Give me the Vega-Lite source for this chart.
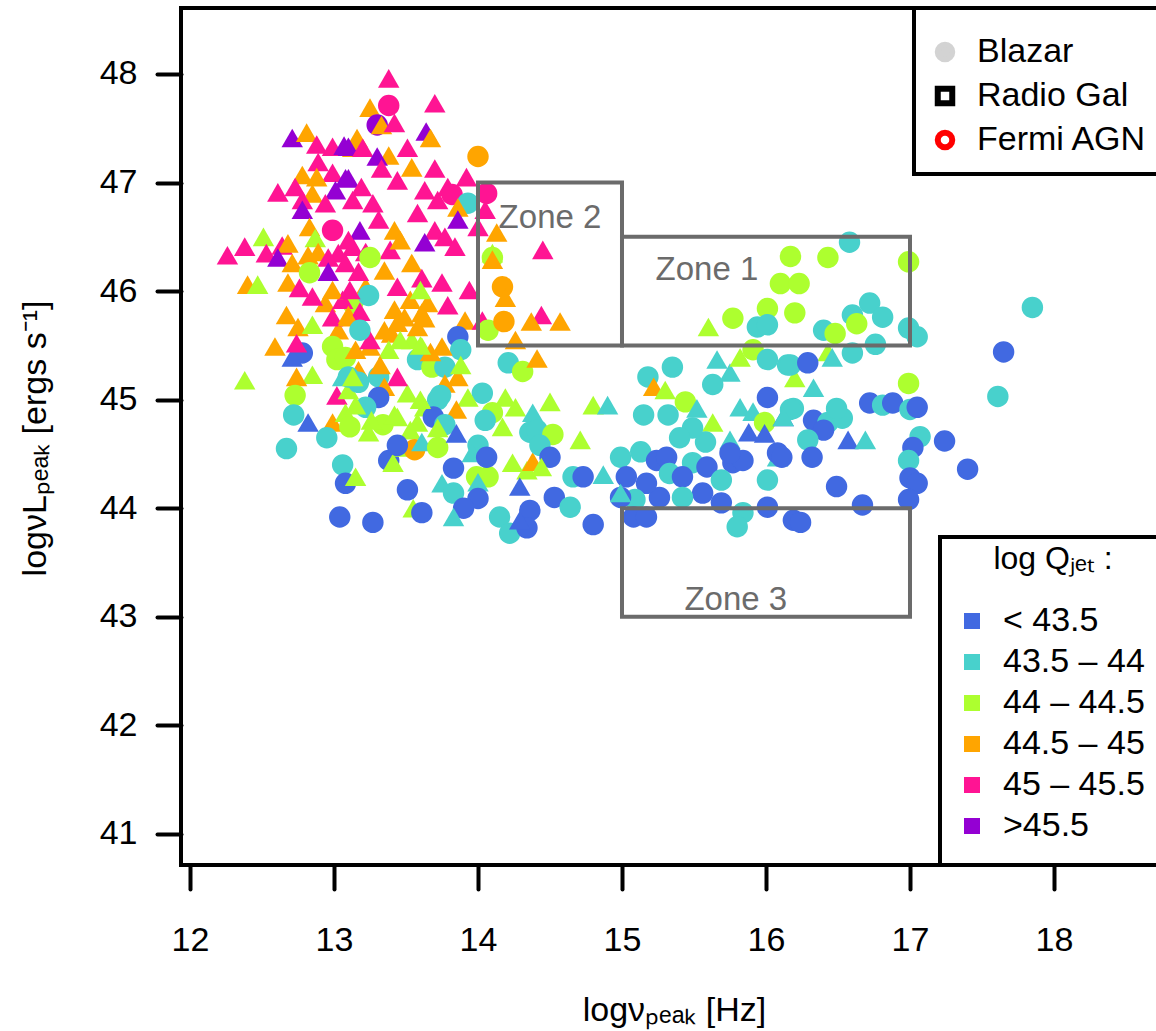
{
  "$schema": "https://vega.github.io/schema/vega-lite/v6.json",
  "width": 985,
  "height": 857,
  "autosize": "none",
  "padding": {"left": 181, "top": 8, "right": -10, "bottom": 166},
  "background": "white",
  "config": {
    "view": {"stroke": "black", "strokeWidth": 4},
    "font": "Liberation Sans",
    "axis": {"domain": false, "grid": false, "tickColor": "black", "tickWidth": 4, "tickSize": 24, "tickCap": "round", "labelFont": "Liberation Sans", "labelFontSize": 34, "labelColor": "black", "titleFont": "Liberation Sans", "titleFontSize": 34, "titleFontWeight": "normal", "titleColor": "black"},
    "legend": {"labelFont": "Liberation Sans", "titleFont": "Liberation Sans", "labelColor": "black", "titleColor": "black", "strokeWidth": 4, "labelLimit": 400}
  },
  "resolve": {"scale": {"shape": "independent", "fill": "independent", "stroke": "independent"}, "legend": {"shape": "independent", "fill": "independent", "stroke": "independent"}},
  "layer": [
    {
      "data": {"values": [
        {"x":12.71,"y":47.41,"q":"V","s":"t"},{"x":12.81,"y":47.46,"q":"O","s":"t"},{"x":12.88,"y":47.35,"q":"P","s":"t"},{"x":12.99,"y":47.33,"q":"P","s":"t"},{"x":13.07,"y":47.34,"q":"V","s":"t"},{"x":13.13,"y":47.32,"q":"O","s":"t"},{"x":12.89,"y":47.19,"q":"P","s":"t"},{"x":12.78,"y":47.07,"q":"O","s":"t"},{"x":12.99,"y":47.09,"q":"P","s":"t"},{"x":13.08,"y":47.04,"q":"V","s":"t"},{"x":12.88,"y":47.05,"q":"O","s":"t"},{"x":12.61,"y":46.91,"q":"P","s":"t"},{"x":12.73,"y":46.96,"q":"P","s":"t"},{"x":12.85,"y":46.90,"q":"O","s":"t"},{"x":13.01,"y":46.93,"q":"V","s":"t"},{"x":12.78,"y":46.84,"q":"P","s":"t"},{"x":12.78,"y":46.75,"q":"V","s":"t"},{"x":12.94,"y":46.81,"q":"P","s":"t"},{"x":12.99,"y":46.56,"q":"P","s":"c"},{"x":12.83,"y":46.59,"q":"O","s":"t"},{"x":12.51,"y":46.50,"q":"G","s":"t"},{"x":12.87,"y":46.49,"q":"G","s":"t"},{"x":12.38,"y":46.41,"q":"P","s":"t"},{"x":12.26,"y":46.33,"q":"P","s":"t"},{"x":12.53,"y":46.35,"q":"P","s":"t"},{"x":12.64,"y":46.42,"q":"P","s":"t"},{"x":12.68,"y":46.44,"q":"O","s":"t"},{"x":12.61,"y":46.31,"q":"V","s":"t"},{"x":12.82,"y":46.33,"q":"O","s":"t"},{"x":12.89,"y":46.36,"q":"O","s":"t"},{"x":13.03,"y":46.35,"q":"P","s":"t"},{"x":13.13,"y":46.41,"q":"P","s":"t"},
        {"x":13.38,"y":47.96,"q":"P","s":"t"},{"x":13.38,"y":47.71,"q":"P","s":"c"},{"x":13.25,"y":47.69,"q":"O","s":"t"},{"x":13.30,"y":47.53,"q":"V","s":"c"},{"x":13.33,"y":47.53,"q":"O","s":"t"},{"x":13.42,"y":47.55,"q":"P","s":"t"},{"x":13.70,"y":47.73,"q":"P","s":"t"},{"x":13.64,"y":47.47,"q":"V","s":"t"},{"x":13.67,"y":47.41,"q":"O","s":"t"},{"x":13.16,"y":47.41,"q":"O","s":"t"},{"x":13.10,"y":47.33,"q":"V","s":"t"},{"x":13.20,"y":47.32,"q":"P","s":"t"},{"x":13.38,"y":47.25,"q":"O","s":"t"},{"x":13.30,"y":47.24,"q":"V","s":"t"},{"x":13.51,"y":47.32,"q":"P","s":"t"},{"x":14.00,"y":47.24,"q":"O","s":"c"},{"x":13.70,"y":47.13,"q":"P","s":"t"},{"x":13.54,"y":47.14,"q":"O","s":"t"},{"x":13.33,"y":47.13,"q":"P","s":"t"},{"x":13.10,"y":47.04,"q":"V","s":"t"},{"x":13.19,"y":46.96,"q":"P","s":"t"},{"x":13.44,"y":47.02,"q":"P","s":"t"},{"x":13.63,"y":46.93,"q":"P","s":"t"},{"x":13.92,"y":47.05,"q":"P","s":"t"},{"x":13.79,"y":46.96,"q":"P","s":"t"},{"x":13.82,"y":46.89,"q":"P","s":"c"},{"x":14.06,"y":46.90,"q":"P","s":"c"},{"x":13.93,"y":46.81,"q":"T","s":"c"},{"x":13.86,"y":46.77,"q":"O","s":"t"},{"x":13.72,"y":46.84,"q":"P","s":"t"},{"x":13.58,"y":46.72,"q":"P","s":"t"},{"x":13.13,"y":46.84,"q":"P","s":"t"},{"x":13.27,"y":46.81,"q":"P","s":"t"},{"x":13.86,"y":46.66,"q":"V","s":"t"},{"x":13.18,"y":46.56,"q":"V","s":"t"},{"x":13.42,"y":46.56,"q":"O","s":"t"},{"x":13.31,"y":46.66,"q":"P","s":"t"},{"x":13.70,"y":46.56,"q":"P","s":"t"},{"x":13.63,"y":46.45,"q":"V","s":"t"},{"x":13.77,"y":46.50,"q":"P","s":"t"},{"x":13.84,"y":46.41,"q":"P","s":"t"},{"x":14.13,"y":46.54,"q":"O","s":"t"},{"x":14.10,"y":46.35,"q":"G","s":"t"},{"x":13.39,"y":46.38,"q":"P","s":"t"},{"x":13.46,"y":46.47,"q":"O","s":"t"},{"x":13.10,"y":46.47,"q":"P","s":"t"},{"x":13.22,"y":46.36,"q":"P","s":"t"},{"x":14.00,"y":46.59,"q":"P","s":"t"},{"x":14.05,"y":46.75,"q":"P","s":"t"},
        {"x":13.25,"y":46.31,"q":"G","s":"c"},{"x":13.35,"y":46.19,"q":"O","s":"t"},{"x":13.54,"y":46.26,"q":"O","s":"t"},{"x":13.22,"y":46.04,"q":"O","s":"t"},{"x":13.13,"y":45.89,"q":"G","s":"c"},{"x":12.94,"y":45.89,"q":"O","s":"t"},{"x":13.06,"y":45.92,"q":"P","s":"t"},{"x":13.65,"y":45.89,"q":"O","s":"t"},{"x":13.49,"y":45.76,"q":"O","s":"t"},{"x":13.61,"y":45.80,"q":"O","s":"t"},{"x":13.40,"y":45.61,"q":"O","s":"t"},{"x":13.03,"y":45.64,"q":"O","s":"t"},
        {"x":12.71,"y":46.26,"q":"O","s":"t"},{"x":12.96,"y":46.31,"q":"P","s":"t"},{"x":12.96,"y":46.18,"q":"V","s":"t"},{"x":13.08,"y":46.26,"q":"P","s":"t"},{"x":12.40,"y":46.06,"q":"O","s":"t"},{"x":12.47,"y":46.06,"q":"G","s":"t"},{"x":12.68,"y":46.08,"q":"O","s":"t"},{"x":12.76,"y":46.03,"q":"P","s":"t"},{"x":12.85,"y":45.95,"q":"P","s":"t"},{"x":12.83,"y":46.17,"q":"G","s":"c"},{"x":12.99,"y":46.01,"q":"O","s":"t"},{"x":12.99,"y":45.76,"q":"P","s":"t"},{"x":12.67,"y":45.78,"q":"O","s":"t"},{"x":12.75,"y":45.67,"q":"O","s":"t"},{"x":12.85,"y":45.69,"q":"G","s":"t"},{"x":13.10,"y":45.78,"q":"O","s":"t"},{"x":12.59,"y":45.49,"q":"O","s":"t"},{"x":12.78,"y":45.43,"q":"B","s":"c"},{"x":12.71,"y":45.39,"q":"B","s":"t"},{"x":12.74,"y":45.52,"q":"P","s":"t"},{"x":12.99,"y":45.49,"q":"G","s":"c"},{"x":13.02,"y":45.37,"q":"G","s":"c"},{"x":12.85,"y":45.23,"q":"G","s":"t"},{"x":12.74,"y":45.21,"q":"O","s":"t"},{"x":13.06,"y":45.21,"q":"T","s":"t"},{"x":12.38,"y":45.18,"q":"G","s":"t"},{"x":12.73,"y":45.04,"q":"G","s":"c"},{"x":13.02,"y":45.04,"q":"P","s":"t"},{"x":12.72,"y":44.86,"q":"T","s":"c"},{"x":12.82,"y":44.79,"q":"B","s":"t"},{"x":12.99,"y":44.79,"q":"O","s":"t"},{"x":13.08,"y":44.88,"q":"G","s":"t"},
        {"x":13.08,"y":45.39,"q":"G","s":"c"},{"x":13.10,"y":45.09,"q":"G","s":"t"},{"x":13.15,"y":45.46,"q":"O","s":"t"},{"x":13.17,"y":45.27,"q":"O","s":"t"},{"x":13.10,"y":45.21,"q":"T","s":"c"},{"x":13.38,"y":45.46,"q":"G","s":"t"},{"x":13.31,"y":45.21,"q":"T","s":"c"},{"x":13.54,"y":45.55,"q":"G","s":"t"},{"x":13.61,"y":45.49,"q":"G","s":"t"},{"x":13.58,"y":45.37,"q":"T","s":"c"},{"x":13.68,"y":45.30,"q":"G","s":"c"},{"x":13.77,"y":45.30,"q":"T","s":"c"},{"x":13.51,"y":45.06,"q":"G","s":"t"},{"x":13.72,"y":45.00,"q":"T","s":"c"},{"x":13.63,"y":44.93,"q":"G","s":"t"},{"x":13.44,"y":44.84,"q":"G","s":"t"},{"x":13.58,"y":44.79,"q":"G","s":"t"},{"x":13.11,"y":44.75,"q":"G","s":"c"},{"x":13.34,"y":44.77,"q":"G","s":"c"},
        {"x":13.17,"y":46.18,"q":"P","s":"t"},{"x":13.44,"y":46.04,"q":"P","s":"t"},{"x":13.61,"y":46.12,"q":"P","s":"t"},{"x":13.75,"y":46.08,"q":"P","s":"t"},{"x":13.94,"y":46.01,"q":"P","s":"t"},{"x":14.10,"y":46.31,"q":"G","s":"c"},{"x":14.10,"y":46.29,"q":"O","s":"t"},{"x":14.17,"y":46.04,"q":"O","s":"c"},{"x":14.19,"y":45.94,"q":"O","s":"t"},{"x":13.79,"y":45.87,"q":"P","s":"t"},{"x":13.91,"y":45.73,"q":"O","s":"t"},{"x":14.03,"y":45.73,"q":"P","s":"t"},{"x":13.18,"y":45.81,"q":"P","s":"t"},{"x":13.10,"y":45.76,"q":"O","s":"t"},{"x":13.42,"y":45.83,"q":"O","s":"t"},{"x":13.44,"y":45.71,"q":"O","s":"t"},{"x":13.35,"y":45.64,"q":"O","s":"t"},{"x":13.58,"y":45.67,"q":"O","s":"t"},{"x":13.24,"y":45.96,"q":"T","s":"c"},{"x":13.86,"y":45.58,"q":"B","s":"c"},{"x":13.88,"y":45.46,"q":"T","s":"c"},{"x":13.75,"y":45.49,"q":"O","s":"t"},{"x":13.67,"y":45.44,"q":"O","s":"t"},{"x":13.25,"y":45.49,"q":"O","s":"t"},{"x":13.25,"y":45.55,"q":"P","s":"t"},{"x":13.44,"y":45.21,"q":"P","s":"t"},{"x":13.35,"y":45.12,"q":"O","s":"t"},{"x":13.77,"y":45.15,"q":"O","s":"t"},{"x":13.86,"y":45.21,"q":"O","s":"t"},{"x":14.21,"y":45.34,"q":"T","s":"c"},{"x":14.07,"y":45.64,"q":"G","s":"c"},{"x":14.31,"y":45.26,"q":"G","s":"c"},{"x":14.03,"y":45.06,"q":"T","s":"c"},{"x":13.93,"y":45.02,"q":"G","s":"t"},{"x":14.19,"y":45.02,"q":"G","s":"t"},{"x":14.26,"y":44.93,"q":"G","s":"t"},{"x":13.85,"y":44.91,"q":"O","s":"t"},{"x":13.31,"y":45.02,"q":"B","s":"c"},{"x":13.69,"y":44.84,"q":"B","s":"c"},{"x":13.17,"y":45.16,"q":"T","s":"c"},{"x":13.13,"y":45.21,"q":"G","s":"t"},{"x":13.22,"y":44.93,"q":"T","s":"c"},{"x":13.26,"y":44.81,"q":"G","s":"t"},{"x":14.10,"y":44.88,"q":"G","s":"c"},{"x":14.05,"y":44.81,"q":"T","s":"c"},{"x":14.26,"y":45.55,"q":"O","s":"t"},{"x":13.46,"y":45.55,"q":"G","s":"t"},{"x":13.60,"y":45.50,"q":"G","s":"t"},{"x":13.53,"y":45.92,"q":"O","s":"t"},{"x":13.63,"y":45.75,"q":"O","s":"t"},{"x":13.15,"y":44.95,"q":"G","s":"t"},{"x":13.42,"y":44.86,"q":"G","s":"t"},{"x":13.60,"y":45.00,"q":"G","s":"t"},{"x":13.74,"y":45.04,"q":"T","s":"c"},{"x":13.53,"y":44.72,"q":"G","s":"t"},{"x":13.77,"y":44.77,"q":"T","s":"c"},{"x":13.88,"y":45.32,"q":"G","s":"t"},{"x":13.32,"y":45.32,"q":"O","s":"t"},{"x":13.18,"y":45.64,"q":"T","s":"c"},{"x":13.60,"y":46.01,"q":"G","s":"t"},{"x":13.11,"y":46.01,"q":"P","s":"t"},
        {"x":14.45,"y":46.38,"q":"P","s":"t"},{"x":14.44,"y":45.78,"q":"P","s":"t"},{"x":14.57,"y":45.72,"q":"O","s":"t"},{"x":14.37,"y":45.72,"q":"O","s":"t"},{"x":14.18,"y":45.72,"q":"O","s":"c"},
        {"x":12.67,"y":44.55,"q":"T","s":"c"},{"x":12.95,"y":44.65,"q":"T","s":"c"},{"x":13.06,"y":44.40,"q":"T","s":"c"},{"x":13.08,"y":44.23,"q":"B","s":"c"},{"x":13.15,"y":44.29,"q":"G","s":"t"},{"x":13.24,"y":44.70,"q":"G","s":"t"},{"x":13.38,"y":44.44,"q":"B","s":"c"},{"x":13.41,"y":44.42,"q":"G","s":"t"},{"x":13.49,"y":44.56,"q":"G","s":"t"},{"x":13.56,"y":44.54,"q":"O","s":"c"},{"x":13.61,"y":44.61,"q":"T","s":"t"},{"x":13.44,"y":44.58,"q":"B","s":"c"},{"x":13.72,"y":44.56,"q":"G","s":"c"},{"x":13.85,"y":44.69,"q":"B","s":"t"},{"x":13.72,"y":44.74,"q":"G","s":"t"},{"x":13.51,"y":44.17,"q":"B","s":"c"},{"x":13.55,"y":44.00,"q":"G","s":"t"},{"x":13.61,"y":43.96,"q":"B","s":"c"},{"x":13.04,"y":43.92,"q":"B","s":"c"},{"x":13.27,"y":43.87,"q":"B","s":"c"},{"x":13.75,"y":44.23,"q":"T","s":"t"},{"x":13.83,"y":44.14,"q":"T","s":"c"},{"x":13.83,"y":44.37,"q":"B","s":"c"},{"x":13.99,"y":44.29,"q":"G","s":"c"},{"x":14.07,"y":44.29,"q":"G","s":"c"},{"x":14.00,"y":44.24,"q":"T","s":"t"},{"x":14.00,"y":44.09,"q":"B","s":"c"},{"x":13.90,"y":44.00,"q":"B","s":"c"},{"x":13.83,"y":43.92,"q":"T","s":"t"},{"x":14.00,"y":44.58,"q":"T","s":"c"},{"x":13.96,"y":44.51,"q":"T","s":"t"},{"x":14.06,"y":44.47,"q":"B","s":"c"},{"x":14.15,"y":43.92,"q":"T","s":"c"},{"x":14.22,"y":43.77,"q":"T","s":"c"},{"x":14.36,"y":43.98,"q":"B","s":"c"},{"x":14.34,"y":43.82,"q":"B","s":"c"},{"x":14.29,"y":43.89,"q":"B","s":"t"},{"x":14.24,"y":44.42,"q":"G","s":"t"},{"x":14.34,"y":44.35,"q":"G","s":"t"},{"x":14.38,"y":44.43,"q":"O","s":"t"},{"x":14.29,"y":44.20,"q":"B","s":"t"},{"x":14.36,"y":44.70,"q":"T","s":"c"},{"x":14.17,"y":44.75,"q":"G","s":"t"},
        {"x":14.41,"y":45.38,"q":"O","s":"t"},{"x":15.18,"y":45.21,"q":"T","s":"c"},{"x":15.35,"y":45.30,"q":"T","s":"c"},{"x":15.22,"y":45.12,"q":"O","s":"t"},{"x":15.30,"y":45.09,"q":"G","s":"t"},{"x":15.44,"y":44.98,"q":"G","s":"c"},{"x":15.52,"y":44.92,"q":"T","s":"t"},{"x":15.15,"y":44.86,"q":"T","s":"c"},{"x":15.32,"y":44.86,"q":"T","s":"c"},{"x":15.66,"y":45.37,"q":"T","s":"t"},{"x":15.75,"y":45.25,"q":"T","s":"t"},{"x":15.63,"y":45.14,"q":"T","s":"c"},{"x":15.82,"y":45.39,"q":"G","s":"t"},{"x":15.91,"y":45.46,"q":"G","s":"c"},{"x":15.94,"y":45.67,"q":"T","s":"c"},{"x":16.01,"y":45.37,"q":"T","s":"c"},{"x":16.15,"y":45.32,"q":"T","s":"c"},{"x":16.20,"y":45.20,"q":"G","s":"t"},{"x":15.82,"y":44.93,"q":"T","s":"t"},{"x":16.01,"y":45.02,"q":"B","s":"c"},{"x":15.91,"y":44.89,"q":"T","s":"t"},{"x":15.99,"y":44.79,"q":"G","s":"c"},{"x":16.12,"y":44.84,"q":"B","s":"t"},{"x":15.88,"y":44.70,"q":"B","s":"t"},{"x":15.99,"y":44.69,"q":"B","s":"t"},{"x":16.19,"y":44.92,"q":"T","s":"c"},{"x":15.63,"y":44.79,"q":"G","s":"t"},{"x":15.58,"y":44.61,"q":"T","s":"c"},{"x":15.49,"y":44.74,"q":"T","s":"c"},{"x":15.40,"y":44.65,"q":"T","s":"c"},{"x":15.75,"y":44.63,"q":"T","s":"t"},{"x":16.08,"y":44.47,"q":"T","s":"t"},{"x":16.08,"y":44.51,"q":"B","s":"c"},{"x":14.50,"y":44.98,"q":"G","s":"t"},{"x":14.80,"y":44.95,"q":"G","s":"t"},{"x":14.90,"y":44.95,"q":"T","s":"t"},{"x":14.38,"y":44.88,"q":"T","s":"t"},{"x":14.41,"y":44.72,"q":"T","s":"c"},{"x":14.52,"y":44.68,"q":"G","s":"c"},{"x":14.71,"y":44.63,"q":"G","s":"t"},{"x":14.43,"y":44.58,"q":"T","s":"c"},{"x":14.50,"y":44.47,"q":"B","s":"c"},{"x":14.44,"y":44.38,"q":"G","s":"t"},{"x":14.66,"y":44.29,"q":"T","s":"c"},{"x":14.73,"y":44.29,"q":"B","s":"c"},{"x":14.87,"y":44.31,"q":"T","s":"t"},{"x":14.53,"y":44.10,"q":"B","s":"c"},{"x":14.64,"y":44.01,"q":"T","s":"c"},{"x":14.80,"y":43.85,"q":"B","s":"c"},{"x":14.99,"y":44.47,"q":"T","s":"c"},{"x":15.13,"y":44.52,"q":"T","s":"c"},{"x":15.03,"y":44.29,"q":"B","s":"c"},{"x":15.24,"y":44.44,"q":"B","s":"c"},{"x":15.31,"y":44.47,"q":"B","s":"c"},{"x":15.33,"y":44.32,"q":"T","s":"c"},{"x":15.49,"y":44.42,"q":"T","s":"c"},{"x":15.42,"y":44.29,"q":"B","s":"c"},{"x":15.59,"y":44.38,"q":"B","s":"c"},{"x":15.77,"y":44.42,"q":"B","s":"c"},{"x":15.84,"y":44.44,"q":"B","s":"c"},{"x":15.75,"y":44.51,"q":"B","s":"c"},{"x":15.69,"y":44.26,"q":"T","s":"c"},{"x":15.56,"y":44.14,"q":"B","s":"c"},{"x":15.69,"y":44.05,"q":"B","s":"c"},{"x":15.42,"y":44.10,"q":"T","s":"c"},{"x":15.26,"y":44.10,"q":"B","s":"c"},{"x":15.17,"y":44.23,"q":"B","s":"c"},{"x":15.09,"y":44.08,"q":"T","s":"c"},{"x":14.99,"y":44.10,"q":"B","s":"c"},{"x":14.99,"y":44.14,"q":"T","s":"t"},{"x":15.08,"y":43.92,"q":"B","s":"c"},{"x":15.17,"y":43.92,"q":"B","s":"c"},{"x":16.01,"y":44.26,"q":"T","s":"c"},{"x":16.01,"y":44.01,"q":"B","s":"c"},{"x":15.84,"y":43.96,"q":"T","s":"c"},{"x":15.80,"y":43.83,"q":"T","s":"c"},{"x":16.19,"y":43.89,"q":"B","s":"c"},{"x":16.11,"y":44.47,"q":"B","s":"c"},
        {"x":15.60,"y":45.67,"q":"G","s":"t"},{"x":15.77,"y":45.75,"q":"G","s":"c"},
        {"x":16.17,"y":46.32,"q":"G","s":"c"},{"x":16.43,"y":46.31,"q":"G","s":"c"},{"x":16.58,"y":46.45,"q":"T","s":"c"},{"x":16.99,"y":46.27,"q":"G","s":"c"},{"x":16.10,"y":46.07,"q":"G","s":"c"},{"x":16.23,"y":46.07,"q":"G","s":"c"},{"x":16.01,"y":45.84,"q":"G","s":"c"},{"x":16.20,"y":45.80,"q":"G","s":"c"},{"x":16.01,"y":45.69,"q":"T","s":"c"},{"x":16.40,"y":45.64,"q":"T","s":"c"},{"x":16.48,"y":45.61,"q":"G","s":"c"},{"x":16.60,"y":45.78,"q":"T","s":"c"},{"x":16.63,"y":45.70,"q":"G","s":"c"},{"x":16.72,"y":45.89,"q":"T","s":"c"},{"x":16.81,"y":45.76,"q":"T","s":"c"},{"x":16.99,"y":45.66,"q":"T","s":"c"},{"x":17.05,"y":45.58,"q":"T","s":"c"},{"x":16.76,"y":45.51,"q":"T","s":"c"},{"x":16.60,"y":45.43,"q":"T","s":"c"},{"x":16.43,"y":45.44,"q":"G","s":"t"},{"x":16.46,"y":45.39,"q":"T","s":"t"},{"x":16.17,"y":45.32,"q":"T","s":"c"},{"x":16.29,"y":45.34,"q":"B","s":"c"},{"x":16.99,"y":45.15,"q":"G","s":"c"},{"x":16.33,"y":45.11,"q":"T","s":"t"},{"x":16.72,"y":44.97,"q":"B","s":"c"},{"x":16.81,"y":44.95,"q":"T","s":"c"},{"x":16.88,"y":44.97,"q":"B","s":"c"},{"x":17.00,"y":44.91,"q":"T","s":"c"},{"x":17.05,"y":44.93,"q":"B","s":"c"},{"x":16.17,"y":44.91,"q":"T","s":"c"},{"x":16.12,"y":44.84,"q":"T","s":"t"},{"x":16.33,"y":44.81,"q":"B","s":"c"},{"x":16.43,"y":44.79,"q":"T","s":"c"},{"x":16.53,"y":44.83,"q":"T","s":"c"},{"x":16.49,"y":44.92,"q":"T","s":"c"},{"x":16.40,"y":44.72,"q":"B","s":"c"},{"x":16.29,"y":44.63,"q":"T","s":"c"},{"x":16.32,"y":44.47,"q":"B","s":"c"},{"x":16.57,"y":44.63,"q":"B","s":"t"},{"x":16.69,"y":44.63,"q":"T","s":"t"},{"x":17.07,"y":44.66,"q":"T","s":"c"},{"x":17.02,"y":44.56,"q":"B","s":"c"},{"x":16.99,"y":44.44,"q":"T","s":"c"},{"x":17.24,"y":44.62,"q":"B","s":"c"},{"x":17.40,"y":44.36,"q":"B","s":"c"},{"x":17.00,"y":44.28,"q":"B","s":"c"},{"x":17.05,"y":44.23,"q":"B","s":"c"},{"x":16.49,"y":44.20,"q":"B","s":"c"},{"x":16.67,"y":44.03,"q":"B","s":"c"},{"x":16.99,"y":44.08,"q":"B","s":"c"},{"x":16.24,"y":43.87,"q":"B","s":"c"},{"x":17.85,"y":45.85,"q":"T","s":"c"},{"x":17.65,"y":45.44,"q":"B","s":"c"},{"x":17.61,"y":45.03,"q":"T","s":"c"}
      ]},
      "mark": {"type": "point", "filled": true, "opacity": 1, "size": 460, "strokeWidth": 0},
      "encoding": {
        "x": {"field": "x", "type": "quantitative", "scale": {"domain": [11.9375, 18.7778], "nice": false, "zero": false},
              "axis": {"values": [12, 13, 14, 15, 16, 17, 18], "title": "logνₚₑₐₖ [Hz]", "labelPadding": 61, "labelBaseline": "alphabetic", "titleX": 493, "titleY": 155, "titleBaseline": "alphabetic", "titleAlign": "center"}},
        "y": {"field": "y", "type": "quantitative", "scale": {"domain": [40.7144, 48.6079], "nice": false, "zero": false},
              "axis": {"values": [41, 42, 43, 44, 45, 46, 47, 48], "title": "logνLₚₑₐₖ [ergs s⁻¹]", "labelPadding": 20, "titleX": -136, "titleY": 430, "titleAngle": -90, "titleBaseline": "alphabetic", "titleAlign": "center"}},
        "color": {"field": "q", "type": "nominal",
          "scale": {"domain": ["B", "T", "G", "O", "P", "V"], "range": ["#4169E1", "#48D1CC", "#ADFF2F", "#FFA500", "#FF1493", "#9400D3"]},
          "legend": {"orient": "none", "legendX": 759, "legendY": 529, "title": "log Qⱼₑₜ :", "titleFontSize": 32, "titleFontWeight": "normal", "titleAnchor": "middle", "titleBaseline": "middle", "titlePadding": 13, "symbolType": "square", "symbolSize": 256, "symbolStrokeWidth": 0, "symbolOffset": -7, "labelFontSize": 34, "labelOffset": 14, "rowPadding": 7, "padding": 22, "strokeColor": "black", "fillColor": "white",
            "labelExpr": "datum.value == 'B' ? '< 43.5' : datum.value == 'T' ? '43.5 – 44' : datum.value == 'G' ? '44 – 44.5' : datum.value == 'O' ? '44.5 – 45' : datum.value == 'P' ? '45 – 45.5' : '>45.5'"}},
        "shape": {"field": "s", "type": "nominal", "scale": {"domain": ["c", "t"], "range": ["circle", "triangle-up"]}, "legend": null}
      }
    },
    {
      "data": {"values": [
        {"x": 14, "x2": 15, "y": 45.5, "y2": 47},
        {"x": 15, "x2": 17, "y": 45.5, "y2": 46.5},
        {"x": 15, "x2": 17, "y": 43, "y2": 44}
      ]},
      "mark": {"type": "rect", "fillOpacity": 0, "stroke": "#6b6b6b", "strokeWidth": 4},
      "encoding": {
        "x": {"field": "x", "type": "quantitative", "scale": {"domain": [11.9375, 18.7778], "nice": false, "zero": false},
              "axis": {"values": [12, 13, 14, 15, 16, 17, 18], "title": "logνₚₑₐₖ [Hz]", "labelPadding": 61, "labelBaseline": "alphabetic", "titleX": 493, "titleY": 155, "titleBaseline": "alphabetic", "titleAlign": "center"}},
        "x2": {"field": "x2"},
        "y": {"field": "y", "type": "quantitative", "scale": {"domain": [40.7144, 48.6079], "nice": false, "zero": false},
              "axis": {"values": [41, 42, 43, 44, 45, 46, 47, 48], "title": "logνLₚₑₐₖ [ergs s⁻¹]", "labelPadding": 20, "titleX": -136, "titleY": 430, "titleAngle": -90, "titleBaseline": "alphabetic", "titleAlign": "center"}},
        "y2": {"field": "y2"}
      }
    },
    {
      "data": {"values": [
        {"x": 14.5, "y": 46.58, "label": "Zone 2"},
        {"x": 15.59, "y": 46.10, "label": "Zone 1"},
        {"x": 15.79, "y": 43.06, "label": "Zone 3"}
      ]},
      "mark": {"type": "text", "font": "Liberation Sans", "fontSize": 33, "color": "#6b6b6b", "align": "center", "baseline": "alphabetic"},
      "encoding": {
        "x": {"field": "x", "type": "quantitative", "scale": {"domain": [11.9375, 18.7778], "nice": false, "zero": false},
              "axis": {"values": [12, 13, 14, 15, 16, 17, 18], "title": "logνₚₑₐₖ [Hz]", "labelPadding": 61, "labelBaseline": "alphabetic", "titleX": 493, "titleY": 155, "titleBaseline": "alphabetic", "titleAlign": "center"}},
        "y": {"field": "y", "type": "quantitative", "scale": {"domain": [40.7144, 48.6079], "nice": false, "zero": false},
              "axis": {"values": [41, 42, 43, 44, 45, 46, 47, 48], "title": "logνLₚₑₐₖ [ergs s⁻¹]", "labelPadding": 20, "titleX": -136, "titleY": 430, "titleAngle": -90, "titleBaseline": "alphabetic", "titleAlign": "center"}},
        "text": {"field": "label"}
      }
    },
    {
      "data": {"values": [{"kind": "Blazar"}, {"kind": "Radio Gal"}, {"kind": "Fermi AGN"}]},
      "transform": [{"filter": "false"}],
      "mark": {"type": "point", "size": 210, "strokeWidth": 6, "opacity": 1},
      "encoding": {
        "shape": {"field": "kind", "type": "nominal",
          "scale": {"domain": ["Blazar", "Radio Gal", "Fermi AGN"], "range": ["circle", "square", "circle"]},
          "legend": {"orient": "none", "legendX": 733, "legendY": 0, "title": " ", "titleFontSize": 4, "titlePadding": 9, "symbolSize": 210, "symbolStrokeWidth": 6, "symbolOpacity": 1, "labelFontSize": 34, "labelOffset": 15, "rowPadding": 4, "padding": 14, "strokeColor": "black", "fillColor": "white"}},
        "fill": {"field": "kind", "type": "nominal",
          "scale": {"domain": ["Blazar", "Radio Gal", "Fermi AGN"], "range": ["#d3d3d3", "white", "white"]},
          "legend": {"orient": "none", "legendX": 733, "legendY": 0, "title": " ", "titleFontSize": 4, "titlePadding": 9, "symbolSize": 210, "symbolStrokeWidth": 6, "symbolOpacity": 1, "labelFontSize": 34, "labelOffset": 15, "rowPadding": 4, "padding": 14, "strokeColor": "black", "fillColor": "white"}},
        "stroke": {"field": "kind", "type": "nominal",
          "scale": {"domain": ["Blazar", "Radio Gal", "Fermi AGN"], "range": ["#d3d3d3", "black", "#ff0000"]},
          "legend": {"orient": "none", "legendX": 733, "legendY": 0, "title": " ", "titleFontSize": 4, "titlePadding": 9, "symbolSize": 210, "symbolStrokeWidth": 6, "symbolOpacity": 1, "labelFontSize": 34, "labelOffset": 15, "rowPadding": 4, "padding": 14, "strokeColor": "black", "fillColor": "white"}}
      }
    }
  ]
}
